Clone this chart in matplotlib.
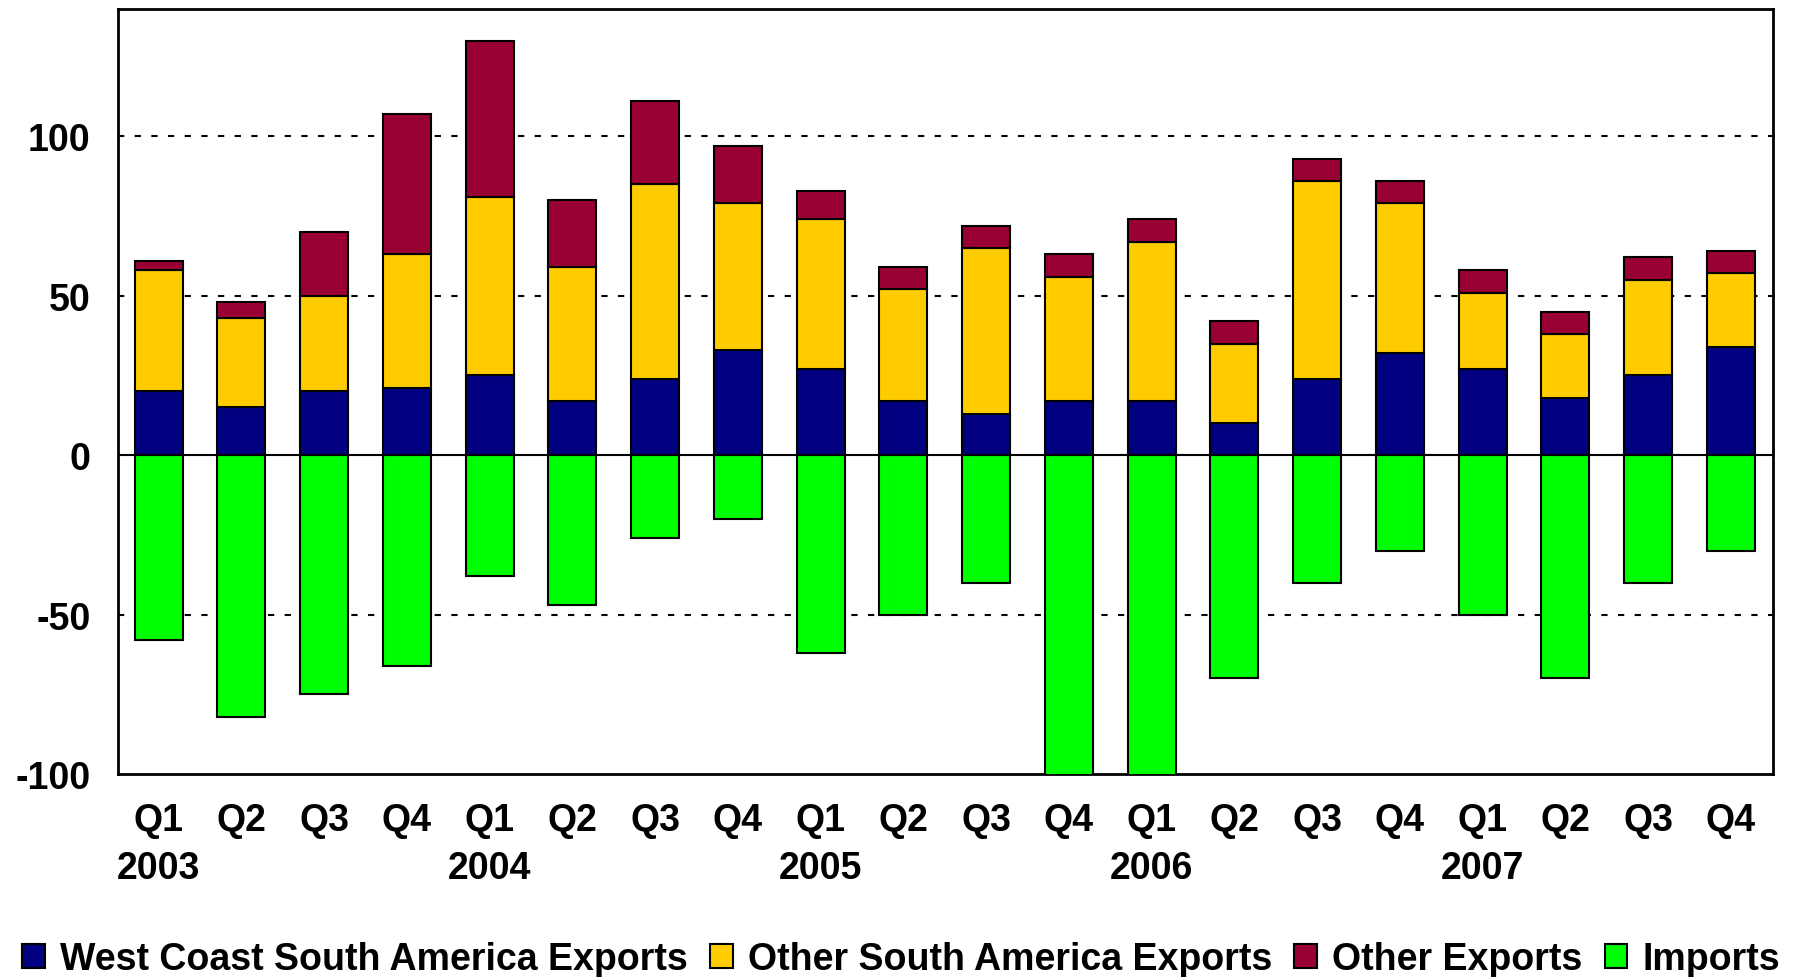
import matplotlib
matplotlib.use("Agg")
import matplotlib.pyplot as plt
import numpy as np

quarters = ["Q1", "Q2", "Q3", "Q4"] * 5
years = ["2003", "2004", "2005", "2006", "2007"]

wcsa = [20, 15, 20, 21, 25, 17, 24, 33, 27, 17, 13, 17, 17, 10, 24, 32, 27, 18, 25, 34]
other_sa = [38, 28, 30, 42, 56, 42, 61, 46, 47, 35, 52, 39, 50, 25, 62, 47, 24, 20, 30, 23]
other_exp = [3, 5, 20, 44, 49, 21, 26, 18, 9, 7, 7, 7, 7, 7, 7, 7, 7, 7, 7, 7]
imports = [-58, -82, -75, -66, -38, -47, -26, -20, -62, -50, -40, -110, -110, -70, -40, -30, -50, -70, -40, -30]

labels = []
for i, q in enumerate(quarters):
    if q == "Q1":
        labels.append(q + "\n" + years[i // 4])
    else:
        labels.append(q)

plt.rcParams['font.family'] = ['Liberation Sans', 'DejaVu Sans']
plt.rcParams['font.weight'] = 'bold'
fs = 27

fig = plt.figure(figsize=(18.02, 9.78), dpi=100)
ax = fig.add_axes([0.0655, 0.2076, 0.9185, 0.7824])

x = np.arange(len(quarters))
w = 0.58
ec = dict(edgecolor="black", linewidth=1.5)
wcsa = np.array(wcsa)
other_sa = np.array(other_sa)
b1 = ax.bar(x, wcsa, w, color="#000080", label="West Coast South America Exports", zorder=3, **ec)
b2 = ax.bar(x, other_sa, w, bottom=wcsa, color="#FFCC00", label="Other South America Exports", zorder=3, **ec)
b3 = ax.bar(x, other_exp, w, bottom=wcsa + other_sa, color="#990033", label="Other Exports", zorder=3, **ec)
b4 = ax.bar(x, imports, w, color="#00FF00", label="Imports", zorder=3, **ec)

ax.set_ylim(-100, 140)
ax.set_xlim(-0.49, len(quarters) - 0.49)
ax.set_yticks([-100, -50, 0, 50, 100])
ax.set_yticklabels(["-100", "-50", "0", "50", "100"], fontsize=fs, fontweight="bold")
ax.set_xticks(x)
ax.set_xticklabels(labels, fontsize=fs, fontweight="bold", linespacing=1.42, va="top")
ax.tick_params(axis="y", length=0, pad=20)
ax.tick_params(axis="x", length=0, pad=20)

for yv in [-50, 50, 100]:
    ax.axhline(yv, color="black", linestyle=(0, (3, 5)), linewidth=1.5, zorder=1)
ax.axhline(0, color="black", linewidth=1.5, zorder=4)

for s in ax.spines.values():
    s.set_linewidth(2)

fig.legend(handles=[b1, b2, b3, b4], loc="lower center", bbox_to_anchor=(0.5, -0.035),
           ncol=4, frameon=False, handlelength=0.6, handleheight=0.6,
           handletextpad=0.4, columnspacing=0.6, prop={"weight": "bold", "size": fs})

fig.savefig("out.png", dpi=100)
